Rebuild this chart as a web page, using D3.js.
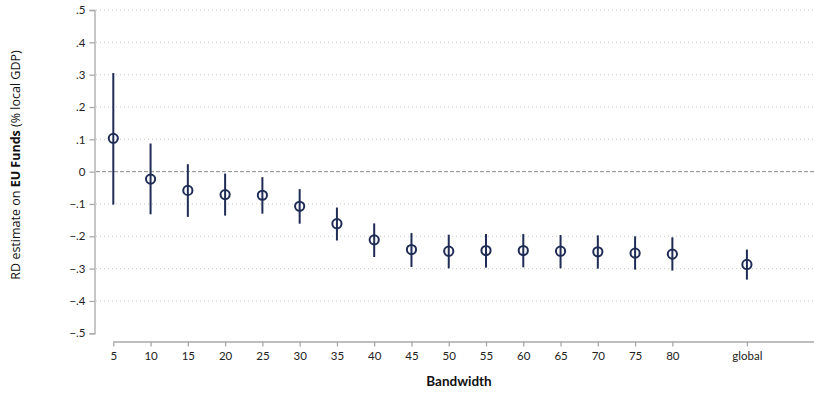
<!DOCTYPE html>
<html>
<head>
<meta charset="utf-8">
<script src="https://cdn.jsdelivr.net/npm/d3@7"></script>
<style>
  body { margin: 0; background: #fff; }
  svg { display: block; font-family: Lato, "Open Sans", sans-serif; }
</style>
</head>
<body>
<svg id="chart" width="814" height="396"></svg>
<script>
// bandwidth labels and their position on the x axis ("global" sits two steps after 80)
const bandwidths = ["5", "10", "15", "20", "25", "30", "35", "40", "45", "50", "55", "60", "65", "70", "75", "80", "global"];
const xPositions = [5, 10, 15, 20, 25, 30, 35, 40, 45, 50, 55, 60, 65, 70, 75, 80, 90];

// RD estimates with 95% CI bounds
const estimates = [0.103, -0.023, -0.058, -0.071, -0.073, -0.107, -0.161, -0.211, -0.241, -0.246, -0.244, -0.244, -0.246, -0.248, -0.252, -0.255, -0.287];
const upper     = [0.305, 0.087, 0.023, -0.006, -0.017, -0.054, -0.111, -0.160, -0.190, -0.195, -0.193, -0.193, -0.196, -0.197, -0.200, -0.203, -0.241];
const lower     = [-0.102, -0.132, -0.140, -0.136, -0.130, -0.161, -0.213, -0.264, -0.295, -0.299, -0.297, -0.296, -0.299, -0.300, -0.303, -0.306, -0.334];

const yTicks = [-0.5, -0.4, -0.3, -0.2, -0.1, 0, 0.1, 0.2, 0.3, 0.4, 0.5];

const navy = "#1f2c55";
const svg = d3.select("#chart");

const x = d3.scaleLinear().domain([5, 99]).range([113.3, 814]);
const y = d3.scaleLinear().domain([-0.5, 0.5]).range([333.3, 10]);

const fmt = v => v === 0 ? "0" : d3.format(".1f")(v).replace("0.", ".");

// gridlines (dotted)
svg.append("g")
    .selectAll("line")
    .data(yTicks.filter(t => t !== 0 && t !== -0.5))
    .enter()
    .append("line")
    .attr("x1", 96).attr("x2", 814)
    .attr("y1", d => y(d)).attr("y2", d => y(d))
    .attr("stroke", "#c8c8c8")
    .attr("stroke-width", 1)
    .attr("stroke-dasharray", "1,3");

// zero reference line (dashed)
svg.append("line")
    .attr("x1", 96).attr("x2", 814)
    .attr("y1", y(0)).attr("y2", y(0))
    .attr("stroke", "#8c8c8c")
    .attr("stroke-width", 1)
    .attr("stroke-dasharray", "4,2");

// y axis
const yAxis = svg.append("g")
    .attr("transform", "translate(94.5,0)")
    .call(d3.axisLeft(y).tickValues(yTicks).tickFormat(fmt).tickSize(5).tickPadding(4));

// x axis
const xAxis = svg.append("g")
    .attr("transform", "translate(0,341.5)")
    .call(d3.axisBottom(x).tickValues(xPositions).tickFormat((d, i) => bandwidths[i]).tickSize(5).tickSizeOuter(0).tickPadding(5));

[yAxis, xAxis].forEach(g => {
    g.select(".domain").attr("stroke", "#a8a8a8").attr("stroke-width", 1.3);
    g.selectAll(".tick line").attr("stroke", "#a8a8a8").attr("stroke-width", 1.3);
    g.selectAll(".tick text").attr("fill", "#222").style("font-size", "11.5px").style("font-family", "Lato, sans-serif");
});

// error bars
svg.append("g")
    .selectAll("line")
    .data(xPositions)
    .enter()
    .append("line")
    .attr("x1", d => x(d)).attr("x2", d => x(d))
    .attr("y1", (d, i) => y(upper[i]))
    .attr("y2", (d, i) => y(lower[i]))
    .attr("stroke", navy)
    .attr("stroke-width", 2);

// point estimates (hollow, bar shows through)
svg.append("g")
    .selectAll("circle")
    .data(xPositions)
    .enter()
    .append("circle")
    .attr("cx", d => x(d))
    .attr("cy", (d, i) => y(estimates[i]))
    .attr("r", 4.6)
    .attr("fill", "none")
    .attr("stroke", navy)
    .attr("stroke-width", 2);

// axis titles
svg.append("text")
    .attr("x", 459)
    .attr("y", 386)
    .attr("text-anchor", "middle")
    .style("font-family", "Lato, sans-serif")
    .style("font-size", "13.5px")
    .style("font-weight", "bold")
    .attr("fill", "#111")
    .text("Bandwidth");

const yTitle = svg.append("text")
    .attr("transform", "translate(20,165) rotate(-90)")
    .attr("text-anchor", "middle")
    .style("font-family", "'Open Sans', sans-serif")
    .style("font-size", "12.5px")
    .attr("fill", "#111");
yTitle.append("tspan").text("RD estimate on ");
yTitle.append("tspan").attr("font-weight", "bold").text("EU Funds");
yTitle.append("tspan").text(" (% local GDP)");
</script>
</body>
</html>
